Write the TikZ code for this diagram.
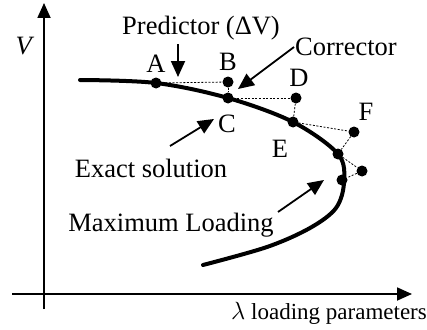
\documentclass[tikz,border=0pt]{standalone}
\usepackage{fontspec}
\setmainfont{Liberation Serif}
\usetikzlibrary{arrows.meta}
\begin{document}
\begin{tikzpicture}[x=1pt,y=-1pt,
  font=\fontsize{26.5}{30}\selectfont,
  axis/.style={line width=1.8pt,-{Triangle[length=15pt,width=13pt]}},
  curveline/.style={line width=4pt,line cap=round},
  dotpt/.style={circle,fill=black,inner sep=0pt,minimum size=11pt},
  guide/.style={line width=0.8pt,dash pattern=on 2pt off 1.6pt},
  pointer/.style={line width=1.8pt,-{Triangle[length=16pt,width=14pt]}},
  lbl/.style={inner sep=0pt,anchor=center}]
\useasboundingbox (0,0) rectangle (427,329);
% axes
\coordinate (yb) at (44,309);
\coordinate (yt) at (44,3);
\coordinate (xl) at (12,294);
\coordinate (xr) at (412,294);
\draw[axis] (yb) -- (yt);
\draw[axis] (xl) -- (xr);
\node[lbl] (Vlab) at (25,46) {\textit{V}};
\node[lbl,font=\fontsize{23}{28}\selectfont] (xlab) at (329,313) {$\lambda$ loading parameters};
% curve
\draw[curveline] plot[smooth,tension=0.55] coordinates {(80,80) (156,83) (228,98) (293,122) (338,154) (344,182) (336,208) (310,228) (267,247) (203,265)};
% points
\node[dotpt] (A) at (156,83) {};
\node[dotpt] (B) at (228,82) {};
\node[dotpt] (C) at (228,98) {};
\node[dotpt] (D) at (296,98) {};
\node[dotpt] (E) at (293,122) {};
\node[dotpt] (F) at (354,132) {};
\node[dotpt] (G) at (338,154) {};
\node[dotpt] (H) at (362,171) {};
\node[dotpt] (K) at (342,180) {};
% guides
\draw[guide] (A) -- (B);
\draw[guide] (B) -- (C);
\draw[guide] (C) -- (D);
\draw[guide] (D) -- (E);
\draw[guide] (E) -- (F);
\draw[guide] (F) -- (G);
\draw[guide] (G) -- (H);
\draw[guide] (H) -- (K);
% point labels
\node[lbl] (lA) at (156,64) {A};
\node[lbl] (lB) at (228,62) {B};
\node[lbl] (lC) at (227,124) {C};
\node[lbl] (lD) at (299,78) {D};
\node[lbl] (lE) at (280,149) {E};
\node[lbl] (lF) at (366,112) {F};
% annotations
\node[lbl] (pred) at (201,28) {Predictor (ΔV)};
\coordinate (predS) at (178,44);
\coordinate (predE) at (178,77);
\draw[pointer] (predS) -- (predE);
\node[lbl] (corr) at (346,47) {Corrector};
\coordinate (corrS) at (294,47);
\coordinate (corrE) at (238,89);
\draw[pointer] (corrS) -- (corrE);
\node[lbl] (exact) at (151,168) {Exact solution};
\coordinate (exS) at (170,146);
\coordinate (exE) at (214,119);
\draw[pointer] (exS) -- (exE);
\node[lbl] (maxl) at (171,225) {Maximum Loading};
\coordinate (mlS) at (278,212);
\coordinate (mlE) at (324,180);
\draw[pointer] (mlS) -- (mlE);
\end{tikzpicture}
\end{document}
